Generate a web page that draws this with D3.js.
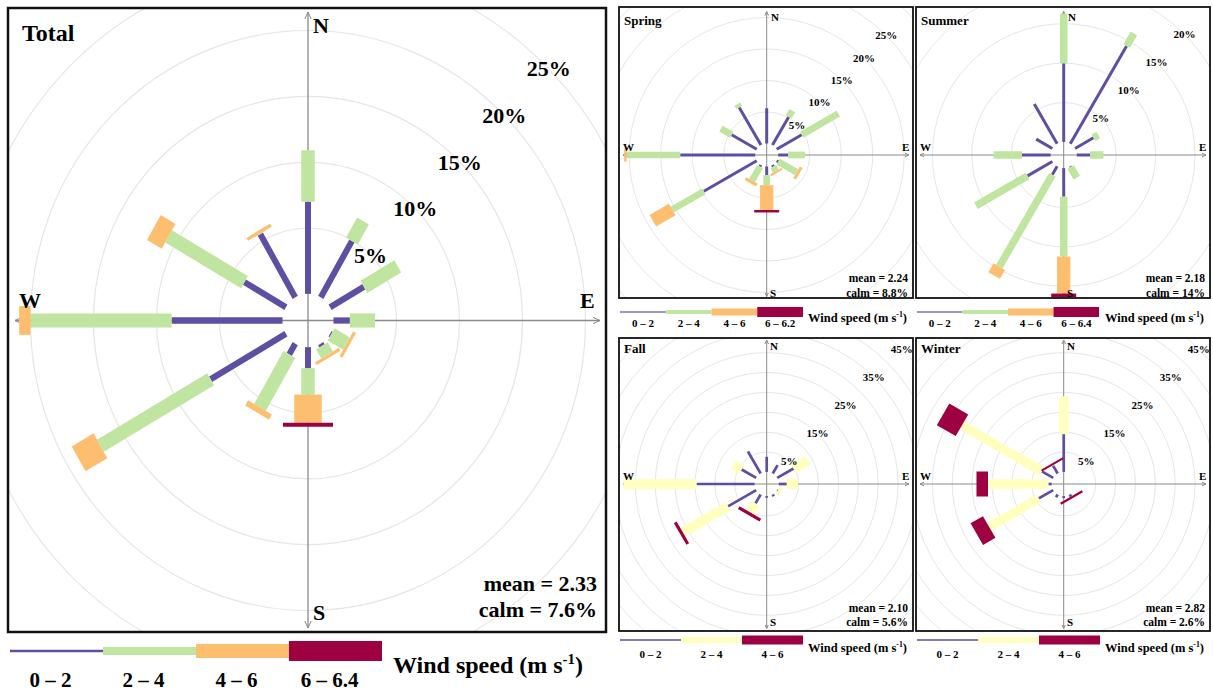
<!DOCTYPE html>
<html><head><meta charset="utf-8">
<script src="https://cdn.jsdelivr.net/npm/d3@7"></script>
<style>
body{margin:0;background:#fff}
text{font-family:"Liberation Serif","Times New Roman",serif;font-weight:bold;fill:#000}
</style>
</head><body>
<svg id="c" width="1213" height="693"></svg>
<script>
// ---------------- DATA ----------------
const directions = [0, 30, 60, 90, 120, 150, 180, 210, 240, 270, 300, 330];
const compass = ["N", "E", "S", "W"];

// Total (% frequency per speed bin, by direction)
const totalBins = ["0 \u2013 2", "2 \u2013 4", "4 \u2013 6", "6 \u2013 6.4"];
const total_0_2  = [7.0, 4.95, 3.1, 1.3, 0.1, 0.2, 1.6, 0.95, 6.9, 8.8, 3.8, 5.55];
const total_2_4  = [3.9, 1.75, 3.1, 2.0, 1.4, 0.8, 2.0, 4.65, 10.1, 11.2, 6.95, 0.05];
const total_4_6  = [0, 0, 0, 0, 0.25, 0.25, 2.15, 0.45, 2.0, 0.9, 1.35, 0.25];
const total_6_64 = [0, 0, 0, 0, 0, 0, 0.3, 0, 0, 0, 0, 0];
const totalTicks = [5, 10, 15, 20, 25];

// Spring
const springBins = ["0 \u2013 2", "2 \u2013 4", "4 \u2013 6", "6 \u2013 6.2"];
const spring_0_2  = [5.6, 5.15, 4.6, 1.6, 0.3, 0.3, 1.35, 0.3, 9.7, 11.9, 4.6, 6.9];
const spring_2_4  = [0, 1.15, 6.7, 2.65, 3.35, 0.8, 1.6, 2.55, 5.8, 8.5, 1.95, 0.6];
const spring_4_6  = [0, 0, 0, 0, 0.5, 0.35, 3.95, 0.5, 3.55, 0.4, 0, 0];
const spring_6_62 = [0, 0, 0, 0, 0, 0, 0.4, 0, 0, 0, 0, 0];
const springTicks = [5, 10, 15, 20, 25];

// Summer
const summerBins = ["0 \u2013 2", "2 \u2013 4", "4 \u2013 6", "6 \u2013 6.4"];
const summer_0_2  = [9.97, 14.3, 2.7, 1.68, 0, 0.1, 3.62, 1.24, 3.64, 3.63, 2.37, 5.8];
const summer_2_4  = [6.3, 1.85, 0.7, 1.7, 0, 1.55, 7.6, 13.45, 7.55, 3.6, 0, 0];
const summer_4_6  = [0, 0, 0, 0, 0, 0, 4.7, 1.3, 0, 0, 0, 0];
const summer_6_64 = [0, 0, 0, 0, 0, 0, 0.45, 0, 0, 0, 0, 0];
const summerTicks = [5, 10, 15, 20];

// Fall
const fallBins = ["0 \u2013 2", "2 \u2013 4", "4 \u2013 6"];
const fall_0_2 = [3.8, 2.45, 4.75, 2.0, 0.2, 0.5, 0.4, 2.6, 8.2, 14.6, 4.25, 6.4];
const fall_2_4 = [0, 0, 4.25, 2.9, 0.8, 0, 0, 2.6, 13.1, 18.4, 2.45, 0];
const fall_4_6 = [0, 0, 0, 0, 0, 0, 0, 0.8, 0.8, 0, 0, 0];
const fallTicks = [5, 15, 25, 35, 45];

// Winter
const winterBins = ["0 \u2013 2", "2 \u2013 4", "4 \u2013 6"];
const winter_0_2 = [9.5, 0, 0, 0, 0, 0.6, 0.5, 0.8, 4.2, 0.8, 3.3, 2.3];
const winter_2_4 = [9.5, 0, 0, 0, 0, 0, 0, 0, 14.4, 15.2, 23.2, 0.1];
const winter_4_6 = [0, 0, 0, 0, 0, 0.6, 0, 0, 3.6, 2.9, 5.5, 0.5];
const winterTicks = [5, 15, 25, 35, 45];

const meanCalm = {
  total: ["mean = 2.33", "calm = 7.6%"],
  spring: ["mean = 2.24", "calm = 8.8%"],
  summer: ["mean = 2.18", "calm = 14%"],
  fall: ["mean = 2.10", "calm = 5.6%"],
  winter: ["mean = 2.82", "calm = 2.6%"]
};

const cols4 = ["#5e4fa2", "#bfe5a0", "#fdbf6f", "#9e0142"];
const cols3 = ["#5e4fa2", "#ffffbf", "#9e0142"];

// ---------------- DRAWING ----------------
const svg = d3.select("#c");
const defs = svg.append("defs");

function addArrow(id, size, color) {
  defs.append("marker").attr("id", id)
    .attr("viewBox", `${-size} ${-size} ${2 * size} ${2 * size}`)
    .attr("markerWidth", 2 * size).attr("markerHeight", 2 * size)
    .attr("markerUnits", "userSpaceOnUse")
    .attr("refX", 0).attr("refY", 0)
    .attr("orient", "auto-start-reverse")
    .append("path").attr("d", `M${-size},${-size * 0.45} L0,0 L${-size},${size * 0.45}`)
    .attr("fill", "none").attr("stroke", color).attr("stroke-width", 1);
}
addArrow("arrBig", 7, "#8a8a8a");
addArrow("arrSmall", 4, "#8a8a8a");

function drawRose(p) {
  const g = svg.append("g");
  const [x0, y0, x1, y1] = p.box;
  defs.append("clipPath").attr("id", "clip-" + p.id)
    .append("rect").attr("x", x0).attr("y", y0).attr("width", x1 - x0).attr("height", y1 - y0);
  const inner = g.append("g").attr("clip-path", `url(#clip-${p.id})`);

  const r = d3.scaleLinear().domain([0, 10]).range([p.r0, p.r0 + 10 * p.k]);
  const ay = p.ay;

  inner.selectAll("ellipse.ring").data(p.grid).join("ellipse")
    .attr("cx", p.cx).attr("cy", p.cy)
    .attr("rx", d => r(d)).attr("ry", d => r(d) * ay)
    .attr("fill", "none").attr("stroke", "#e6e6e6").attr("stroke-width", p.ringW);

  const ax = p.axis;
  const arr = p.big ? "url(#arrBig)" : "url(#arrSmall)";
  inner.append("line").attr("x1", p.cx).attr("x2", p.cx).attr("y1", ax.b).attr("y2", ax.t)
    .attr("stroke", "#8a8a8a").attr("stroke-width", p.axisW)
    .attr("marker-end", arr).attr("marker-start", arr);
  inner.append("line").attr("y1", p.cy).attr("y2", p.cy).attr("x1", ax.l).attr("x2", ax.r)
    .attr("stroke", "#8a8a8a").attr("stroke-width", p.axisW)
    .attr("marker-end", arr).attr("marker-start", arr);

  const pt = (deg, rr, off) => {
    const t = deg * Math.PI / 180;
    const X = rr * Math.sin(t) + off * Math.cos(t);
    const Y = rr * Math.cos(t) - off * Math.sin(t);
    return [p.cx + X, p.cy - Y * ay];
  };
  const paddles = [];
  directions.forEach((dir, di) => {
    let cum = 0;
    p.series.forEach((vals, bi) => {
      const v = vals[di];
      if (v > 0) paddles.push({dir, a: cum, b: cum + v, bi});
      cum += v;
    });
  });
  inner.selectAll("path.paddle").data(paddles).join("path")
    .attr("d", d => {
      const h = p.widths[d.bi] / 2;
      const pts = [pt(d.dir, r(d.a), -h), pt(d.dir, r(d.b), -h), pt(d.dir, r(d.b), h), pt(d.dir, r(d.a), h)];
      return "M" + pts.map(q => q.join(",")).join("L") + "Z";
    })
    .attr("fill", d => p.colors[d.bi]);

  const c45 = Math.SQRT1_2;
  inner.selectAll("text.pct").data(p.ticks).join("text")
    .attr("x", d => p.cx + r(d) * c45)
    .attr("y", d => p.cy - r(d) * c45 * ay)
    .attr("text-anchor", "middle").attr("dominant-baseline", "central")
    .attr("font-size", p.fs)
    .text(d => d + "%");

  const L = p.letters;
  g.selectAll("text.cmp").data(compass).join("text")
    .attr("x", d => L[d][0]).attr("y", d => L[d][1])
    .attr("font-size", p.fs).text(d => d);

  g.append("text").attr("x", p.title[0]).attr("y", p.title[1]).attr("font-size", p.titleFs).text(p.titleText);

  g.selectAll("text.mc").data(p.mc).join("text")
    .attr("x", p.mcPos[0]).attr("y", (d, i) => p.mcPos[1] + i * p.mcPos[2])
    .attr("text-anchor", "end").attr("font-size", p.mcFs).text(d => d);

  g.append("rect").attr("x", x0).attr("y", y0).attr("width", x1 - x0).attr("height", y1 - y0)
    .attr("fill", "none").attr("stroke", "#111").attr("stroke-width", p.borderW);
}

function drawLegend(L) {
  const g = svg.append("g");
  const n = L.labels.length;
  const x = d3.scaleLinear().domain([0, n]).range([L.x0, L.x1]);
  g.selectAll("rect").data(L.labels).join("rect")
    .attr("x", (d, i) => x(i)).attr("width", x(1) - x(0))
    .attr("y", (d, i) => L.y - L.thick[i] / 2).attr("height", (d, i) => L.thick[i])
    .attr("fill", (d, i) => L.colors[i]);
  g.selectAll("text.lab").data(L.labels).join("text")
    .attr("x", (d, i) => x(i + 0.5) + (L.shift || 0)).attr("y", L.labY)
    .attr("text-anchor", "middle").attr("font-size", L.fs).text(d => d);
  const t = g.append("text").attr("x", L.tx).attr("y", L.ty).attr("font-size", L.tfs);
  t.append("tspan").text("Wind speed (m s");
  t.append("tspan").attr("font-size", L.tfs * 0.62).attr("dy", -L.tfs * 0.38).text("-1");
  t.append("tspan").attr("dy", L.tfs * 0.38).text(")");
}

// ---- Total ----
drawRose({
  id: "total", box: [8, 8, 606, 632], cx: 308, cy: 320.5, r0: 25.5, k: 12.6, ay: 1.045,
  axis: {t: 12, b: 628, l: 15, r: 600}, big: true, axisW: 1.3, ringW: 1.2, borderW: 2.5,
  grid: totalTicks, ticks: totalTicks,
  series: [total_0_2, total_2_4, total_4_6, total_6_64], colors: cols4, widths: [6, 13.5, 27.5, 50],
  fs: 22, letters: {N: [313, 33], S: [313, 620], W: [19, 308], E: [580, 308]},
  title: [22, 41], titleFs: 24, titleText: "Total",
  mc: meanCalm.total, mcPos: [597, 591, 26], mcFs: 22
});
drawLegend({x0: 10, x1: 382, y: 651, thick: [2.5, 8, 14, 20], colors: cols4, labels: totalBins,
  labY: 687, fs: 21, shift: -6, tx: 393, ty: 673, tfs: 24});

// ---- Spring ----
drawRose({
  id: "spring", box: [619, 7, 913, 298], cx: 766.7, cy: 155, r0: 11.5, k: 6.3, ay: 1,
  axis: {t: 11.5, b: 296.5, l: 623, r: 909}, big: false, axisW: 1, ringW: 1, borderW: 1.8,
  grid: [5, 10, 15, 20, 25, 30], ticks: springTicks,
  series: [spring_0_2, spring_2_4, spring_4_6, spring_6_62], colors: cols4, widths: [3, 6.7, 13.3, 25],
  fs: 11, letters: {N: [771, 21], S: [770, 297], W: [623, 151], E: [902, 151]},
  title: [624, 24.5], titleFs: 13, titleText: "Spring",
  mc: meanCalm.spring, mcPos: [908, 282, 14.5], mcFs: 11.5
});
drawLegend({x0: 620, x1: 803, y: 312, thick: [1.2, 3.8, 7, 10], colors: cols4, labels: springBins,
  labY: 327, fs: 11, tx: 808, ty: 321.5, tfs: 12.5});

// ---- Summer ----
drawRose({
  id: "summer", box: [916, 7, 1210, 298], cx: 1063.7, cy: 155, r0: 13.1, k: 7.88, ay: 1,
  axis: {t: 11.5, b: 296.5, l: 920, r: 1206}, big: false, axisW: 1, ringW: 1, borderW: 1.8,
  grid: [5, 10, 15, 20, 25], ticks: summerTicks,
  series: [summer_0_2, summer_2_4, summer_4_6, summer_6_64], colors: cols4, widths: [3, 7.5, 13.3, 25],
  fs: 11, letters: {N: [1068, 21], S: [1067, 297], W: [920, 151], E: [1199, 151]},
  title: [921, 24.5], titleFs: 13, titleText: "Summer",
  mc: meanCalm.summer, mcPos: [1205, 282, 14.5], mcFs: 11.5
});
drawLegend({x0: 917, x1: 1099, y: 312, thick: [1.2, 3.8, 7, 10], colors: cols4, labels: summerBins,
  labY: 327, fs: 11, tx: 1105, ty: 321.5, tfs: 12.5});

// ---- Fall ----
drawRose({
  id: "fall", box: [619, 338, 913, 631], cx: 766.7, cy: 484, r0: 12.1, k: 3.975, ay: 1,
  axis: {t: 340, b: 628.5, l: 623, r: 909}, big: false, axisW: 1, ringW: 1, borderW: 1.8,
  grid: d3.range(5, 55, 5), ticks: fallTicks,
  series: [fall_0_2, fall_2_4, fall_4_6], colors: cols3, widths: [2.7, 10, 25],
  fs: 11, letters: {N: [770, 350], S: [770, 626], W: [623, 480], E: [902, 480]},
  title: [624, 352.5], titleFs: 13, titleText: "Fall",
  mc: meanCalm.fall, mcPos: [908, 611.5, 14.5], mcFs: 11.5
});
drawLegend({x0: 620, x1: 803, y: 640, thick: [1.5, 6, 9], colors: cols3, labels: fallBins,
  labY: 657.5, fs: 11, tx: 808, ty: 652, tfs: 12.5});

// ---- Winter ----
drawRose({
  id: "winter", box: [916, 338, 1210, 631], cx: 1063.7, cy: 484, r0: 12.1, k: 3.975, ay: 1,
  axis: {t: 340, b: 628.5, l: 920, r: 1206}, big: false, axisW: 1, ringW: 1, borderW: 1.8,
  grid: d3.range(5, 55, 5), ticks: winterTicks,
  series: [winter_0_2, winter_2_4, winter_4_6], colors: cols3, widths: [2.7, 9.5, 25],
  fs: 11, letters: {N: [1067, 350], S: [1067, 626], W: [920, 480], E: [1199, 480]},
  title: [921, 352.5], titleFs: 13, titleText: "Winter",
  mc: meanCalm.winter, mcPos: [1205, 611.5, 14.5], mcFs: 11.5
});
drawLegend({x0: 917, x1: 1100, y: 640, thick: [1.5, 6, 9], colors: cols3, labels: winterBins,
  labY: 657.5, fs: 11, tx: 1105, ty: 652, tfs: 12.5});
</script>
</body></html>
